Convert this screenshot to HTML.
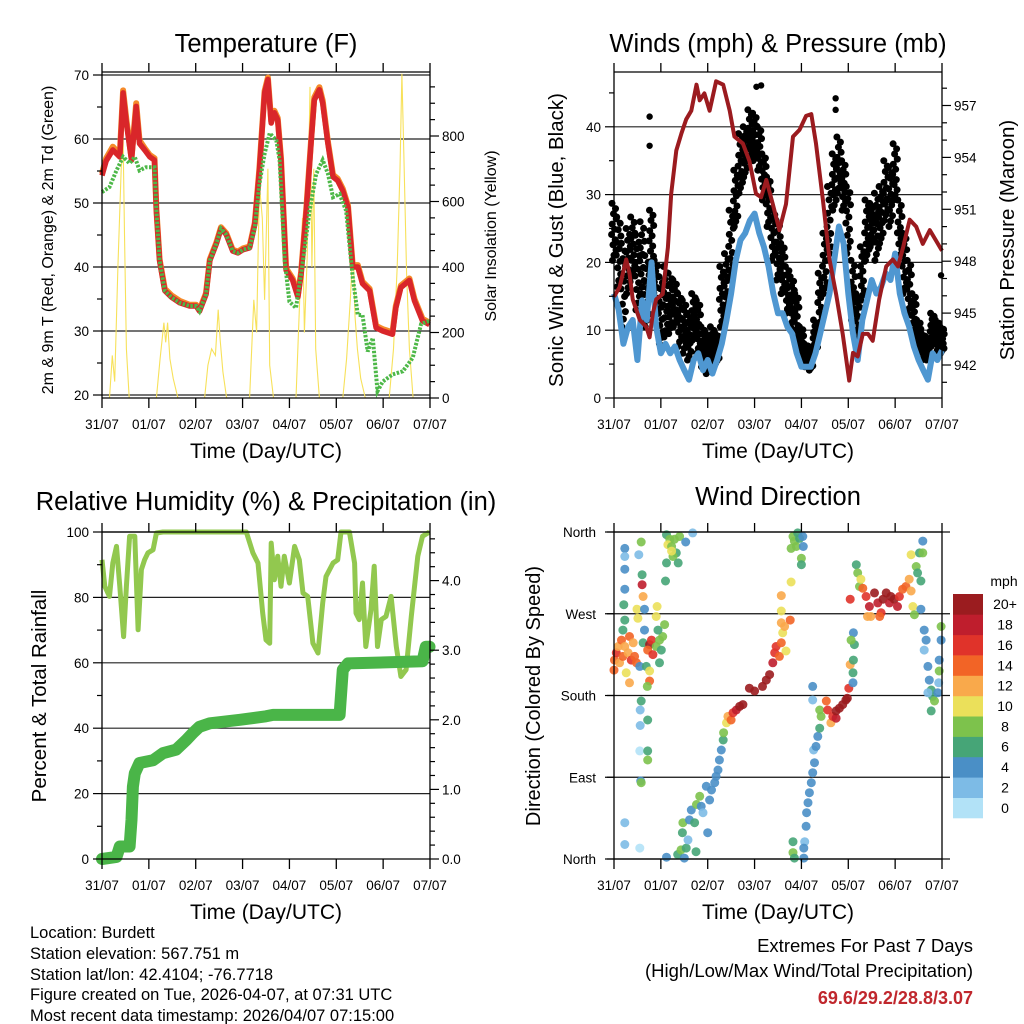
<!DOCTYPE html>
<html><head><meta charset="utf-8"><style>
html,body{margin:0;padding:0;background:#fff;}
svg{display:block;font-family:"Liberation Sans",Arial,sans-serif;}
</style></head><body>
<svg id="root" width="1024" height="1024" viewBox="0 0 1024 1024" xmlns="http://www.w3.org/2000/svg">
<g id="p1"></g>
<g id="p2"></g>
<g id="p3"></g>
<g id="p4"></g>
<g id="info" font-size="16.5" fill="#000">
<text x="30" y="938">Location: Burdett</text>
<text x="30" y="959">Station elevation: 567.751 m</text>
<text x="30" y="980">Station lat/lon: 42.4104; -76.7718</text>
<text x="30" y="1000">Figure created on Tue, 2026-04-07, at 07:31 UTC</text>
<text x="30" y="1021">Most recent data timestamp: 2026/04/07 07:15:00</text>
</g>
<g text-anchor="end">
<text x="973" y="952" font-size="18.5">Extremes For Past 7 Days</text>
<text x="973" y="977" font-size="18.5">(High/Low/Max Wind/Total Precipitation)</text>
<text x="973" y="1004" font-size="18" font-weight="bold" fill="#c0272d">69.6/29.2/28.8/3.07</text>
</g>
</svg>
<script>
const dayLabels=["31/07","01/07","02/07","03/07","04/07","05/07","06/07","07/07"];
// Temperature (F)
const t2mT=[0,.09,.23,.38,.45,.52,.63,.73,.80,.91,1.02,1.12,1.16,1.23,1.34,1.48,1.66,1.87,2.01,2.08,2.22,2.30,2.44,2.54,2.65,2.79,2.90,3.01,3.15,3.26,3.36,3.47,3.54,3.61,3.68,3.75,3.82,3.93,4.07,4.18,4.25,4.36,4.46,4.53,4.64,4.71,4.82,4.93,5.03,5.14,5.25,5.35,5.46,5.56,5.71,5.85,5.99,6.20,6.27,6.38,6.56,6.67,6.84,6.99];
const t2mV=[54.3,56.6,58.3,57.2,67.2,62.5,56.7,65.1,59.3,58.3,57.2,56.7,48.8,41,36.3,35.3,34.4,33.9,33.9,33.1,35.7,41,43.6,46,45.1,42.5,42.2,42.7,43.0,46.7,55.1,67.2,69.3,62.5,64.1,63,56.7,39.5,37.9,35.3,38.9,48.8,59.3,66.1,67.7,65.6,59.3,54.1,53.5,51.9,49.3,40,40,37.4,36.3,30.5,30,29.5,33.6,36.8,37.9,34.7,31.6,31];
const t9mV=[54.6,57,58.8,57.6,67.6,63,57,65.6,59.8,58.6,57.5,57,49,41.2,36.6,35.6,34.7,34.1,34.1,33.3,35.9,41.2,43.8,46.2,45.3,42.7,42.4,42.9,43.2,46.9,55.4,67.5,69.6,62.8,64.4,63.3,57,39.8,38.2,35.6,39.2,49.1,59.6,66.5,68.1,66,59.6,54.4,53.8,52.2,49.6,40.3,40.3,37.7,36.6,30.8,30.3,29.8,33.9,37.1,38.2,35,31.9,31.3];
const tdT=[0,.16,.31,.45,.59,.70,.80,.94,1.12,1.16,1.23,1.34,1.48,1.66,1.87,2.01,2.08,2.22,2.30,2.44,2.54,2.65,2.79,2.90,3.01,3.15,3.26,3.36,3.47,3.58,3.72,3.79,3.90,4.0,4.14,4.29,4.43,4.57,4.71,4.82,4.93,5.07,5.21,5.35,5.46,5.56,5.67,5.78,5.88,5.99,6.20,6.42,6.63,6.81,6.99];
const tdV=[51.7,52.5,55.1,57.2,56.2,57.2,55.1,55.6,55.6,48.8,41,36.3,35.3,34.4,33.9,33.9,33.1,35.7,41,43.6,46,45.1,42.5,42.2,42.7,43.0,46.2,53,57.7,60.9,59.8,56.7,41,34.6,33.6,41,48.8,54.5,56.7,54.6,50.9,51.4,48.8,38.4,32.5,32.5,26.8,28.9,20.6,22.1,23.2,23.7,25.8,31.1,31.6];
const solarT=[0,.16,.22,.27,.34,.41,.45,.48,.52,.58,1.16,1.24,1.32,1.36,1.40,1.45,1.52,1.62,2.19,2.26,2.34,2.42,2.48,2.52,2.58,2.66,3.15,3.24,3.30,3.36,3.42,3.47,3.54,3.58,3.66,4.14,4.22,4.28,4.32,4.38,4.44,4.48,4.52,4.56,4.64,5.14,5.22,5.30,5.36,5.40,5.45,5.52,5.62,6.13,6.22,6.30,6.36,6.40,6.44,6.50,6.56,6.64,7];
const solarV=[0,0,130,50,400,700,790,500,150,0,0,120,230,170,230,120,60,0,0,100,150,130,270,180,80,0,0,300,200,650,550,300,700,100,0,0,300,550,200,430,950,400,700,150,0,0,120,300,470,250,150,60,0,0,150,400,700,990,750,380,150,0,0];
// Winds
const windT=[0,.1,.2,.3,.4,.5,.6,.7,.8,.9,1,1.1,1.2,1.3,1.4,1.5,1.6,1.7,1.8,1.9,2,2.1,2.2,2.3,2.4,2.5,2.6,2.7,2.8,2.9,3,3.1,3.2,3.3,3.4,3.5,3.6,3.7,3.8,3.9,4,4.1,4.2,4.3,4.4,4.5,4.6,4.7,4.8,4.9,5,5.1,5.2,5.3,5.4,5.5,5.6,5.7,5.8,5.9,6,6.1,6.2,6.3,6.4,6.5,6.6,6.7,6.8,6.9,7];
const windV=[15.4,13,8,10.5,11.5,5.6,14.4,11.5,20,10.5,6.6,8,6.6,7.6,5.6,4.1,2.7,5.6,6.6,4.1,5.6,3.6,5.6,8,11.5,15.4,20.3,23.3,24.3,26.2,27.2,24.3,22.3,19.4,15.4,12.5,12.5,10.5,9.5,6.6,4.6,4.6,4.6,6.6,9.5,12.5,15.4,20.3,25.3,22.8,15.4,9.5,5.6,11.5,14.4,17.4,15.4,16.4,18.4,17.4,21.3,15.4,12.5,10.5,7.6,5.6,4.1,2.7,6.6,5.6,7];
const gustHi=[28.7,26.7,22.8,25,26.7,24,26,21,27.7,20.3,17.9,19.4,18.4,17.4,15.4,14.4,12.5,15.4,14.4,10.5,9.5,10.5,9.5,19.4,21.3,27.7,33.6,39,40,42.5,42,40,36,32.6,27.7,26.2,22.8,19.4,17.9,15.4,10.5,8,7.6,11.5,18.4,24.3,31.2,36,38.5,35,31.2,20.3,15.4,22.3,29.2,28.7,30.2,31.2,35,34,37.5,29.2,24.3,20.3,15.4,11.5,9.5,9,12.5,11.5,10.5];
const gustLo=[20.3,16.4,10.5,15.4,17.9,13,15.4,10.5,19.4,11.5,8,9,9.5,10.5,7.6,6.6,5.6,8.5,6.6,4.6,3.6,4.6,5.1,10.5,12.5,17.9,25.3,30.2,32.6,35,35,33.6,29.2,25.3,20.3,17.4,15.4,12.5,10.5,8,5.6,4.6,4.1,6.6,10.5,15.4,20.3,27.7,30.2,27.7,21.3,11.5,8,14.4,20.3,22.3,20.3,22.8,26.2,25.3,29.2,20.3,15.4,12.5,9.5,6.6,5.6,5.6,7.6,6.6,6.6];
const outT=[.76,.76,3.04,3.14,4.73,4.73,6.98];
const outV=[41.5,37.2,45.9,46.1,44.2,42.5,18.1];
const presT=[0,.12,.26,.33,.40,.55,.69,.76,.83,.90,1.04,1.15,1.22,1.33,1.44,1.54,1.65,1.76,1.83,1.93,2.04,2.18,2.33,2.47,2.57,2.75,2.89,3.03,3.14,3.25,3.39,3.53,3.67,3.82,3.96,4.10,4.21,4.31,4.46,4.60,4.74,4.88,5.02,5.10,5.20,5.31,5.42,5.52,5.66,5.81,5.95,6.06,6.17,6.31,6.45,6.59,6.74,6.87,7];
const presV=[945.95,946.5,948.1,947.3,945.8,944.6,944.2,943.6,945,945.8,946.1,948.8,951.9,954.4,955.4,956.2,956.7,958.2,957.3,957.7,956.7,958.4,958.2,956.7,955.2,954.8,953.8,951.9,951.7,952.7,951.3,949.8,951.3,955.2,955.6,956.4,956.5,954.8,951.5,948.1,946.1,943.8,941.1,942.7,942.5,943.8,943.8,943.4,945.8,947.7,948.1,947.7,948.8,950.4,950,949,949.8,949.2,948.6];
// Humidity & precip
const rhT=[0,.06,.16,.23,.31,.38,.46,.52,.59,.70,.77,.84,.91,.98,1.09,1.16,1.30,3.08,3.22,3.33,3.43,3.50,3.58,3.61,3.68,3.75,3.82,3.89,4.0,4.11,4.21,4.29,4.39,4.50,4.61,4.71,4.78,4.93,5.03,5.10,5.28,5.39,5.42,5.49,5.56,5.63,5.74,5.81,5.88,5.96,6.06,6.17,6.28,6.38,6.49,6.60,6.74,6.84,6.99];
const rhV=[91.5,83.4,80.3,90.5,95.6,83.4,68,83.4,98.7,98.7,70.1,88.5,91.5,93.6,94.6,99.7,100,100,93.6,90.5,75.2,67,66,96.6,85.4,92.6,83.4,92.6,84.4,95.6,91.5,81.3,80.3,66,63,78.3,86.4,90.5,91.5,100,100,90.5,75.2,73.2,84.4,65,76.2,89.5,65,73.2,74.2,80.3,65,55.8,57.9,74.2,92.6,98.7,100];
const prT=[0,.31,.38,.59,.63,.66,.70,.80,1.09,1.30,1.58,1.80,1.94,2.08,2.30,2.94,3.50,3.65,5.07,5.14,5.25,6.84,6.91,6.99];
const prV=[0,.03,.18,.18,.56,1.04,1.23,1.38,1.42,1.52,1.57,1.71,1.81,1.90,1.95,2.0,2.05,2.07,2.07,2.72,2.81,2.84,3.05,3.05];
// Wind direction scatter
const dirT=[0,.01,.05,.09,.12,.16,.19,.23,.26,.30,.33,.37,.41,.44,.33,.23,.19,.48,
.23,.23,.23,.23,.21,.53,.60,.60,.62,.49,.65,.51,.65,.62,.55,.69,.76,.71,.76,
.76,.80,.72,.83,.90,.97,1.04,1.01,.94,1.08,.92,.90,.97,
.58,.56,.72,.56,.55,.72,.72,.57,.58,.23,.23,.55,
1.12,1.19,1.15,1.23,1.29,1.33,1.40,1.26,1.37,1.12,1.10,1.53,1.68,.58,1.23,
1.12,1.36,1.43,1.50,1.54,1.46,1.47,1.58,1.61,1.65,1.72,1.75,1.76,1.83,1.86,1.90,1.97,2.0,2.04,2.08,2.15,2.18,2.22,2.25,2.29,2.33,2.34,2.40,2.43,2.50,2.54,2.61,2.68,2.75,2.89,3.00,3.17,3.25,3.32,3.39,3.43,3.46,3.53,3.57,3.60,3.67,3.64,3.76,3.57,3.57,3.57,3.78,
3.82,3.85,3.89,3.96,3.92,4.03,4.04,4.0,4.0,3.78,
3.82,3.82,3.85,4.07,4.05,4.05,
4.10,4.11,4.14,4.17,4.21,4.24,4.28,4.26,4.31,4.35,4.39,4.39,4.24,4.24,4.42,4.53,4.56,4.63,4.67,4.74,4.74,4.81,4.88,4.95,5.01,4.98,5.04,5.10,5.10,5.11,5.13,5.11,5.06,
5.17,5.20,5.24,5.27,5.31,5.38,5.45,5.48,5.56,5.63,5.70,5.74,5.81,5.88,5.91,5.98,6.05,6.09,6.16,6.23,6.30,6.34,6.38,6.41,6.45,6.48,6.34,6.52,6.59,6.55,6.55,5.04,5.67,5.41,
6.62,6.66,6.62,6.70,6.73,6.77,6.80,6.84,6.77,6.91,6.94,6.94,6.98,6.98,6.93,6.70,6.59];
const dirD=[208,219,227,234,216,241,223,234,205,227,245,219,238,223,194,263,252,216,
342,333,319,297,280,335,313,302,289,275,275,265,252,238,212,212,196,190,207,
236,241,230,225,234,241,245,230,252,258,278,267,216,
174,164,153,147,119,119,109,86,84,40,16,12,
357,352,346,344,352,337,355,333,326,326,306,349,359,349,339,
2,5,10,1,12,29,40,21,43,54,40,8,60,69,58,51,80,29,65,76,84,91,98,109,120,131,139,150,157,153,161,164,168,170,188,185,190,197,203,216,227,234,223,238,249,229,256,263,260,273,290,305,
355,350,344,353,359,355,344,331,324,342,
19,7,1,19,1,12,
36,51,62,73,84,95,106,120,124,135,144,164,190,175,157,174,164,150,157,155,163,166,170,175,188,177,214,205,194,219,236,249,241,
324,315,300,308,298,289,278,267,293,282,271,286,293,282,289,286,278,289,297,300,308,295,278,269,322,315,335,337,350,306,275,286,267,267,
252,241,230,212,197,186,179,174,163,183,207,219,256,241,194,183,337];
const dirS=[15,14,16,13,12,14,15,12,10,13,14,16,12,15,12,6,6,14,
4,2,4,4,6,2,6,18,12,10,4,10,4,6,4,6,14,8,10,
20,16,14,16,8,8,8,6,6,8,10,10,6,
6,2,6,2,0,6,8,4,8,2,2,0,
6,8,10,8,8,6,8,8,6,6,6,4,2,8,10,
4,6,8,4,6,6,8,2,4,4,6,6,8,8,4,2,4,4,4,4,4,4,4,4,4,6,8,10,12,14,16,18,20,20,20,20,20,20,20,18,16,16,14,14,10,10,12,14,12,10,12,10,
8,8,8,6,6,4,4,8,6,8,
6,8,6,2,4,4,
4,4,4,4,4,4,4,2,4,4,6,8,4,2,8,14,16,12,16,18,20,20,20,20,16,20,12,6,4,6,6,4,8,
6,8,8,10,14,16,18,12,20,18,16,20,20,18,20,20,18,16,14,14,12,12,10,8,8,6,10,6,4,6,4,16,14,12,
4,4,2,4,4,6,6,8,6,4,8,4,8,4,2,2,8];
const spdColors=["#b2e2f7","#7dbbe6","#4a8fc6","#46a577","#7dc24c","#ebe05a","#f9a94b","#f26426","#e0332a","#bf1e2d","#9b1c1f"];
const spdLabels=["0","2","4","6","8","10","12","14","16","18","20+"];
const dirLabels=["North","East","South","West","North"];

const NS="http://www.w3.org/2000/svg";
function el(parent,tag,attrs){const e=document.createElementNS(NS,tag);for(const k in attrs)e.setAttribute(k,attrs[k]);parent.appendChild(e);return e;}
function txt(parent,x,y,s,size,anchor,extra){const e=el(parent,'text',Object.assign({x:x,y:y,'font-size':size,'text-anchor':anchor||'middle'},extra||{}));e.textContent=s;return e;}
function line(p,x1,y1,x2,y2,c,w){return el(p,'line',{x1:x1,y1:y1,x2:x2,y2:y2,stroke:c,'stroke-width':w});}
function pathFrom(xs,ys,sx,sy){let d='';for(let i=0;i<xs.length;i++){d+=(i?'L':'M')+sx(xs[i]).toFixed(1)+','+sy(ys[i]).toFixed(1);}return d;}

function frame(g,X0,X1,Y0,Y1,sx){
  for(let i=0;i<8;i++){const x=sx(i);
    const tt=line(g,x,Y0-9,x,Y0,'#000',1.3);
    
    
    const tb=line(g,x,Y1,x,Y1+10,'#000',1.3);
    
    
    const l=txt(g,x,Y1+31,dayLabels[i],13.5,'middle');
    
    
  }
  line(g,X0,Y0,X1,Y0,'#000',1.3);
  line(g,X0,Y1,X1,Y1,'#000',1.3);
  line(g,X0,Y0,X0,Y1,'#000',1.3);
  line(g,X1,Y0,X1,Y1,'#000',1.3);
  const xt=txt(g,(X0+X1)/2,Y1+60,'Time (Day/UTC)',21,'middle');
  
  
}
function yAxis(g,vals,sy,x,side,fmt,len){
  vals.forEach(v=>{const y=sy(v);
    const t=line(g,side<0?x-len:x,y,side<0?x:x+len,y,'#000',1.2);
    
    
    if(fmt){const l=txt(g,side<0?x-13:x+12,y+5,fmt(v),13.5,side<0?'end':'start');
      
      }
  });
}
function grid(g,vals,sy,x0,x1,c){vals.forEach(v=>{const l=line(g,x0,sy(v),x1,sy(v),c||'#111',1.2);
  
  });}
function rot(g,x,y,s,size,name){const e=txt(g,x,y,s,size,'middle',{transform:'rotate(-90 '+x+' '+y+')'});
  
  return e;}
function title(g,x,y,s){const e=txt(g,x,y,s,25.5,'middle');
  
  }

// ---------- Panel 1 ----------
(function(){
  const g=document.getElementById('p1');
  const X0=102,X1=430,Y0=72,Y1=398;
  const sx=d=>X0+d*(X1-X0)/7;
  const sy=T=>139+(60-T)*6.4;
  const si=I=>398-I*0.3275;
  title(g,266,52,'Temperature (F)');
  grid(g,[20,30,40,50,60,70],sy,X0,X1,'#222');
  const s=el(g,'path',{d:pathFrom(solarT,solarV,sx,si),fill:'none',stroke:'#f7e15a','stroke-width':1.1});
  
  
  const o=el(g,'path',{d:pathFrom(t2mT,t9mV,sx,sy),fill:'none',stroke:'#f58a2a','stroke-width':6,'stroke-linejoin':'round'});
  
  
  const r=el(g,'path',{d:pathFrom(t2mT,t2mV,sx,sy),fill:'none',stroke:'#d9262a','stroke-width':5.5,'stroke-linejoin':'round'});
  
  
  const gd=el(g,'path',{d:pathFrom(tdT,tdV,sx,sy),fill:'none',stroke:'#4db848','stroke-width':4,'stroke-dasharray':'2.5 1.5'});
  
  
  frame(g,X0,X1,Y0,Y1,sx);
  yAxis(g,[20,30,40,50,60,70],sy,X0,-1,v=>String(v),9);
  yAxis(g,[25,35,45,55,65],sy,X0,-1,null,5);
  yAxis(g,[0,200,400,600,800],si,X1,1,v=>String(v),9);
  yAxis(g,[50,100,150,250,300,350,450,500,550,650,700,750,850,900,950],si,X1,1,null,5);
  rot(g,53,240,'2m & 9m T (Red, Orange) & 2m Td (Green)',16,'left-axis-title');
  rot(g,496,236,'Solar Insolation (Yellow)',16,'right-axis-title');
})();

// ---------- Panel 2 ----------
(function(){
  const g=document.getElementById('p2');
  const X0=614,X1=942,Y0=72,Y1=398;
  const sx=d=>X0+d*(X1-X0)/7;
  const sw=w=>398-w*6.78;
  const sp=p=>365-(p-942)*17.3;
  title(g,778,52,'Winds (mph) & Pressure (mb)');
  grid(g,[10,20,30,40],sw,X0,X1,'#222');
  const gg=el(g,'g',{fill:'#000'});
  
  
  const jx=[-2,1.5,-0.5,2.2,-1.8,0.6,-2.4,1.2,-1,2,0,-1.5];
  for(let i=0;i<windT.length;i++){
    const x0=sx(windT[i]);const yh=sw(gustHi[i]),yl=sw(gustLo[i]);
    for(let k=0;k<=11;k++){
      const y=yh+(yl-yh)*k/11;
      const c=el(gg,'circle',{cx:(x0+jx[k]).toFixed(1),cy:y.toFixed(1),r:3.5});
      
      
    }
  }
  outT.forEach((t,i)=>{const c=el(gg,'circle',{cx:sx(t),cy:sw(outV[i]),r:3.2});
    
    });
  const b=el(g,'path',{d:pathFrom(windT,windV,sx,sw),fill:'none',stroke:'#4f97d1','stroke-width':6,'stroke-linejoin':'round'});
  
  
  const p=el(g,'path',{d:pathFrom(presT,presV,sx,sp),fill:'none',stroke:'#9b1b1f','stroke-width':4,'stroke-linejoin':'round'});
  
  
  frame(g,X0,X1,Y0,Y1,sx);
  yAxis(g,[0,10,20,30,40],sw,X0,-1,v=>String(v),9);
  yAxis(g,[5,15,25,35,45],sw,X0,-1,null,5);
  yAxis(g,[942,945,948,951,954,957],sp,X1,1,v=>String(v),9);
  yAxis(g,[941,943,944,946,947,949,950,952,953,955,956,958],sp,X1,1,null,5);
  rot(g,563,240,'Sonic Wind & Gust (Blue, Black)',20.5,'left-axis-title');
  rot(g,1014,240,'Station Pressure (Maroon)',20.5,'right-axis-title');
})();

// ---------- Panel 3 ----------
(function(){
  const g=document.getElementById('p3');
  const X0=102,X1=430,Y0=532,Y1=859;
  const sx=d=>X0+d*(X1-X0)/7;
  const sr=v=>859-v*3.27;
  const sp=v=>859-v*69.6;
  title(g,266,510,'Relative Humidity (%) & Precipitation (in)');
  grid(g,[20,40,60,80,100],sr,X0,X1,'#222');
  const rh=el(g,'path',{d:pathFrom(rhT,rhV,sx,sr),fill:'none',stroke:'#92c84f','stroke-width':5,'stroke-linejoin':'round'});
  
  
  const pr=el(g,'path',{d:pathFrom(prT,prV,sx,sp),fill:'none',stroke:'#4ab548','stroke-width':12,'stroke-linejoin':'round','stroke-linecap':'round'});
  
  
  frame(g,X0,X1,Y0,Y1,sx);
  yAxis(g,[0,20,40,60,80,100],sr,X0,-1,v=>String(v),9);
  yAxis(g,[10,30,50,70,90],sr,X0,-1,null,5);
  yAxis(g,[0,1,2,3,4],sp,X1,1,v=>v.toFixed(1),9);
  yAxis(g,[.2,.4,.6,.8,1.2,1.4,1.6,1.8,2.2,2.4,2.6,2.8,3.2,3.4,3.6,3.8,4.2,4.4,4.6],sp,X1,1,null,5);
  rot(g,46,696,'Percent & Total Rainfall',20.5,'left-axis-title');
})();

// ---------- Panel 4 ----------
(function(){
  const g=document.getElementById('p4');
  const X0=614,X1=942,Y0=532,Y1=859;
  const sx=d=>X0+d*(X1-X0)/7;
  const sd=d=>859-d*(327/360);
  title(g,778,505,'Wind Direction');
  grid(g,[0,90,180,270,360],sd,607,950,'#111');
  const pg=el(g,'g',{});
  
  
  for(let i=0;i<dirT.length;i++){
    const bin=Math.min(10,Math.max(0,Math.floor(dirS[i]/2)));
    const c=el(pg,'circle',{cx:sx(dirT[i]).toFixed(1),cy:sd(dirD[i]).toFixed(1),r:4.5,fill:spdColors[bin],'fill-opacity':0.9});
    
    
  }
  frame(g,X0,X1,Y0,Y1,sx);
  [0,90,180,270,360].forEach((v,i)=>{
    const t=line(g,X0-9,sd(v),X0,sd(v),'#000',1.2);
    
    
    const l=txt(g,X0-18,sd(v)+5,dirLabels[i],13.5,'end');
    
    
  });
  rot(g,540,696,'Direction (Colored By Speed)',20,'left-axis-title');
  const cb=el(g,'g',{});
  
  
  const ut=txt(cb,1004,586,'mph',14,'middle');
  
  
  const bh=224/11;
  for(let i=0;i<11;i++){
    const yy=594+(10-i)*bh;
    const r=el(cb,'rect',{x:953,y:yy.toFixed(1),width:30,height:(bh+0.3).toFixed(1),fill:spdColors[i]});
    
    
    const l=txt(cb,1005,yy+bh/2+5,spdLabels[i],14,'middle');
    
    
  }
})();
</script>
</body></html>
